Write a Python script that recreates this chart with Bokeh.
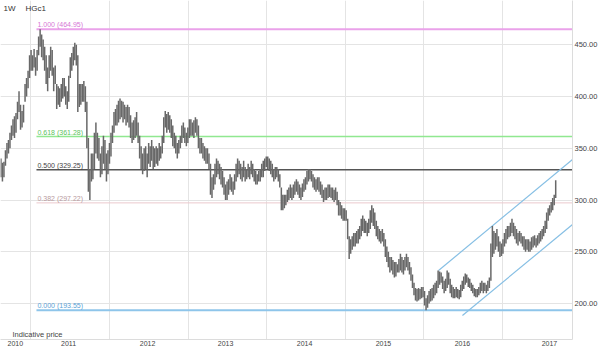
import pandas as pd
from bokeh.plotting import figure
from bokeh.models import Range1d, FixedTicker, PrintfTickFormatter, Label, ColumnDataSource
from bokeh.core.properties import value
from bokeh.embed import file_html
from bokeh.resources import INLINE

# ---------------- data (weekly HGc1, cents/lb) ----------------
first_week = "2010-08-16"

lows = [
    # 2010 Aug..Dec
    322, 318, 322,
    333, 340, 345, 350,
    358, 362, 360, 365,
    378, 385, 368, 370, 375,
    395, 400, 408, 418,
    # 2011
    425, 425, 428, 420, 425,
    440, 448, 438, 435,
    425, 412, 405, 418,
    425, 420, 405, 412,
    388, 392, 390, 395, 398,
    400, 392, 388, 395,
    418, 425, 430, 435,
    430, 385, 390, 392, 395,
    395, 385, 350, 308,
    300, 318, 320, 330, 345,
    340, 338, 322, 325,
    335, 330, 318, 325,
    # 2012
    335, 342, 355, 365, 372,
    372, 375, 378, 380,
    375, 378, 372, 375,
    370, 360, 355, 358, 360,
    362, 355, 340, 330,
    325, 328, 330, 322,
    335, 332, 338, 330, 332,
    335, 333, 338, 340,
    345, 355, 370, 365,
    368, 365, 360, 352, 350,
    345, 340, 345, 350,
    355, 360, 355, 352, 355,
    # 2013
    360, 362, 362, 360,
    365, 362, 350, 345,
    345, 340, 338, 335,
    335, 330, 305, 302, 310,
    315, 322, 325, 320,
    315, 312, 305, 300,
    300, 305, 310, 308, 305,
    310, 318, 322, 325,
    320, 318, 322, 318, 320,
    322, 320, 325, 322,
    318, 315, 315, 318,
    318, 322, 322, 328, 332,
    # 2014
    330, 328, 325, 322,
    318, 320, 322, 318,
    312, 290, 290, 292, 295,
    298, 300, 302, 300,
    302, 305, 308, 305,
    302, 300, 303, 308, 310,
    315, 318, 320, 318,
    312, 310, 308, 310,
    308, 305, 302, 298, 300,
    300, 302, 303, 302,
    300, 298, 300, 295,
    285, 285, 282, 280, 280,
    # 2015
    280, 262, 243, 248,
    252, 255, 255, 258,
    258, 262, 265, 270, 268,
    268, 265, 268, 272,
    278, 275, 272, 265,
    262, 260, 258, 260, 255,
    245, 240, 235, 230,
    232, 228, 225, 226, 230,
    230, 232, 230, 228,
    232, 235, 232, 228,
    222, 215, 208, 203, 202,
    203, 204, 205, 206,
    # 2016
    198, 193.55, 196, 200,
    202, 203, 205, 208, 210,
    215, 218, 220, 214,
    210, 212, 215, 218,
    210, 206, 205, 205, 206,
    205, 204, 206, 212,
    214, 218, 220, 216,
    215, 212, 210, 207, 206,
    206, 208, 210, 212,
    210, 212, 210, 212, 215,
    222, 245, 248, 252,
    255, 250, 245, 246,
    # 2017
    248, 255, 258, 262, 264,
    265, 268, 265, 262,
    258, 256, 260, 258,
    255, 252, 250, 252,
    250, 250, 252, 254, 256,
    254, 256, 258, 260,
    262, 265, 268, 272, 280,
    285, 288, 290, 295,
    302,
]

highs = [
    # 2010 Aug..Dec
    340, 336, 337,
    348, 355, 358, 365,
    372, 378, 381, 384,
    395, 405, 392, 386, 392,
    412, 418, 425, 440,
    # 2011
    445, 440, 446, 438, 445,
    458, 464.95, 460, 455,
    448, 440, 428, 440,
    448, 445, 428, 430,
    412, 410, 408, 412, 418,
    418, 410, 405, 420,
    438, 442, 448, 452,
    450, 440, 412, 412, 412,
    415, 410, 395, 360,
    330, 345, 345, 365, 375,
    365, 360, 345, 352,
    362, 358, 345, 348,
    # 2012
    355, 365, 372, 385, 388,
    392, 396, 398, 396,
    395, 392, 390, 392,
    390, 382, 375, 377, 380,
    385, 375, 362, 352,
    345, 350, 352, 345,
    355, 352, 358, 352, 350,
    352, 350, 355, 352,
    362, 380, 386, 383,
    385, 382, 378, 372, 365,
    362, 355, 358, 362,
    372, 375, 370, 365, 370,
    # 2013
    378, 378, 375, 377,
    380, 378, 372, 360,
    360, 355, 352, 350,
    350, 345, 335, 322, 325,
    335, 340, 338, 335,
    332, 328, 322, 315,
    318, 320, 325, 322, 318,
    325, 335, 340, 338,
    335, 332, 338, 332, 330,
    335, 332, 338, 335,
    330, 328, 325, 328,
    330, 335, 338, 340, 342,
    # 2014
    342, 340, 338, 335,
    330, 332, 332, 330,
    325, 312, 305, 305, 305,
    310, 312, 315, 312,
    315, 318, 320, 318,
    315, 312, 316, 320, 322,
    328, 330, 330, 328,
    325, 322, 320, 322,
    322, 318, 315, 310, 312,
    312, 315, 315, 312,
    312, 310, 312, 308,
    300, 298, 295, 292, 292,
    # 2015
    290, 282, 265, 262,
    265, 268, 268, 270,
    272, 275, 282, 285, 282,
    280, 278, 282, 290,
    295, 292, 288, 280,
    275, 272, 270, 272, 268,
    262, 255, 250, 245,
    245, 242, 240, 240, 238,
    243, 248, 245, 242,
    245, 248, 245, 240,
    235, 228, 220, 215, 214,
    215, 214, 216, 216,
    # 2016
    212, 205, 208, 212,
    214, 215, 218, 220, 222,
    232, 231, 230, 226,
    222, 224, 232, 230,
    224, 218, 216, 214, 216,
    214, 213, 218, 222,
    226, 229, 228, 225,
    224, 220, 218, 215, 214,
    214, 216, 220, 222,
    220, 220, 218, 222, 225,
    258, 275, 270, 268,
    272, 265, 260, 258,
    # 2017
    262, 268, 272, 275, 275,
    278, 282, 278, 275,
    272, 268, 270, 268,
    265, 265, 262, 262,
    262, 260, 264, 265, 266,
    263, 266, 268, 270,
    272, 275, 280, 288, 292,
    295, 298, 302, 305,
    319,
]

fib_ratios = ["1.000", "0.618", "0.500", "0.382", "0.000"]
fib_prices = [464.95, 361.28, 329.25, 297.22, 193.55]
fib_start = "2011-01-28"
fib_line_colors = ["#eaa2ea", "#90e890", "#555555", "#ebc9cd", "#8ec5ea"]
fib_text_colors = ["#d678d6", "#5cc25c", "#444444", "#b89a9e", "#5aa2d6"]
fib_widths = [2, 1.5, 1.6, 1, 2]

channel_upper_dates = ["2016-03-09", "2017-11-21"]
channel_upper_prices = [231.9, 339.1]
channel_lower_dates = ["2016-06-28", "2017-11-21"]
channel_lower_prices = [188.4, 276.3]

year_labels = ["2010", "2011", "2012", "2013", "2014", "2015", "2016", "2017"]
year_label_dates = ["2010-10-22", "2011-06-26", "2012-06-27", "2013-06-24",
                    "2014-06-26", "2015-06-27", "2016-06-28", "2017-08-06"]
year_grid_dates = ["2011-01-01", "2012-01-01", "2013-01-01", "2014-01-01",
                   "2015-01-01", "2016-01-01", "2017-01-01"]
price_ticks = [200, 250, 300, 350, 400, 450]

x_start = pd.Timestamp("2010-08-14")
x_end = pd.Timestamp("2017-11-21")


def day(d):
    return float((pd.Timestamp(d) - x_start).days)


weeks = pd.date_range(first_week, periods=len(highs), freq="7D")
src = ColumnDataSource(dict(x=[day(w) for w in weeks], low=lows, high=highs))

FONT = value("Liberation Sans")

p = figure(width=600, height=358, output_backend="svg", toolbar_location=None,
           x_range=Range1d(0, day(x_end)), y_range=Range1d(165.2, 492.8),
           y_axis_location="right",
           min_border_left=0, min_border_top=0, min_border_right=28, min_border_bottom=19)
p.outline_line_color = None
p.background_fill_color = "white"
p.border_fill_color = "white"

# grid
p.xgrid.ticker = FixedTicker(ticks=[day(d) for d in year_grid_dates])
p.ygrid.ticker = FixedTicker(ticks=price_ticks)
p.xgrid.grid_line_color = "#e4e4e4"
p.ygrid.grid_line_color = "#e4e4e4"

# axes
xt = [day(d) for d in year_label_dates]
p.xaxis.ticker = FixedTicker(ticks=xt)
p.xaxis.major_label_overrides = {t: lab for t, lab in zip(xt, year_labels)}
p.xaxis.major_tick_line_color = None
p.xaxis.minor_tick_line_color = None
p.xaxis.major_tick_out = 0
p.xaxis.major_tick_in = 0
p.xaxis.major_label_standoff = 1
p.xaxis.axis_line_color = "#dcdcdc"
p.xaxis.major_label_text_font = "Liberation Sans"
p.xaxis.major_label_text_font_size = "7px"
p.xaxis.major_label_text_color = "#444444"

p.yaxis.ticker = FixedTicker(ticks=price_ticks)
p.yaxis.formatter = PrintfTickFormatter(format="%.2f")
p.yaxis.major_tick_line_color = None
p.yaxis.minor_tick_line_color = None
p.yaxis.major_tick_out = 0
p.yaxis.major_tick_in = 0
p.yaxis.major_label_standoff = 2
p.yaxis.axis_line_color = "#dcdcdc"
p.yaxis.major_label_text_font = "Liberation Sans"
p.yaxis.major_label_text_font_size = "7.5px"
p.yaxis.major_label_text_color = "#444444"

# fibonacci levels
for ratio, price, lc, w in zip(fib_ratios, fib_prices, fib_line_colors, fib_widths):
    p.segment(x0=[day(fib_start)], y0=[price], x1=[day(x_end)], y1=[price],
              line_color=lc, line_width=w)

p.text(x=[day(fib_start)] * len(fib_prices), y=fib_prices,
       text=[f"{r} ({v:.2f})" for r, v in zip(fib_ratios, fib_prices)],
       text_color=fib_text_colors, text_font=FONT, text_font_size="7px",
       text_baseline="bottom", text_align="left", x_offset=1, y_offset=-1)

# channel
p.line([day(d) for d in channel_upper_dates], channel_upper_prices,
       line_color="#86bfe4", line_width=1.2)
p.line([day(d) for d in channel_lower_dates], channel_lower_prices,
       line_color="#86bfe4", line_width=1.2)

# price bars
p.segment(x0="x", y0="low", x1="x", y1="high", source=src,
          line_color="#686868", line_width=1.5)

# header and footer texts
p.add_layout(Label(x=3, y=331, x_units="screen", y_units="screen", text="1W",
                   text_font="Liberation Sans", text_font_size="8px",
                   text_baseline="middle", text_color="#333333"))
p.add_layout(Label(x=25, y=331, x_units="screen", y_units="screen", text="HGc1",
                   text_font="Liberation Sans", text_font_size="8px",
                   text_baseline="middle", text_color="#333333"))
p.add_layout(Label(x=12, y=5, x_units="screen", y_units="screen", text="Indicative price",
                   text_font="Liberation Sans", text_font_size="7.5px",
                   text_baseline="middle", text_color="#444444"))

open("out.html", "w").write(file_html(p, INLINE))
